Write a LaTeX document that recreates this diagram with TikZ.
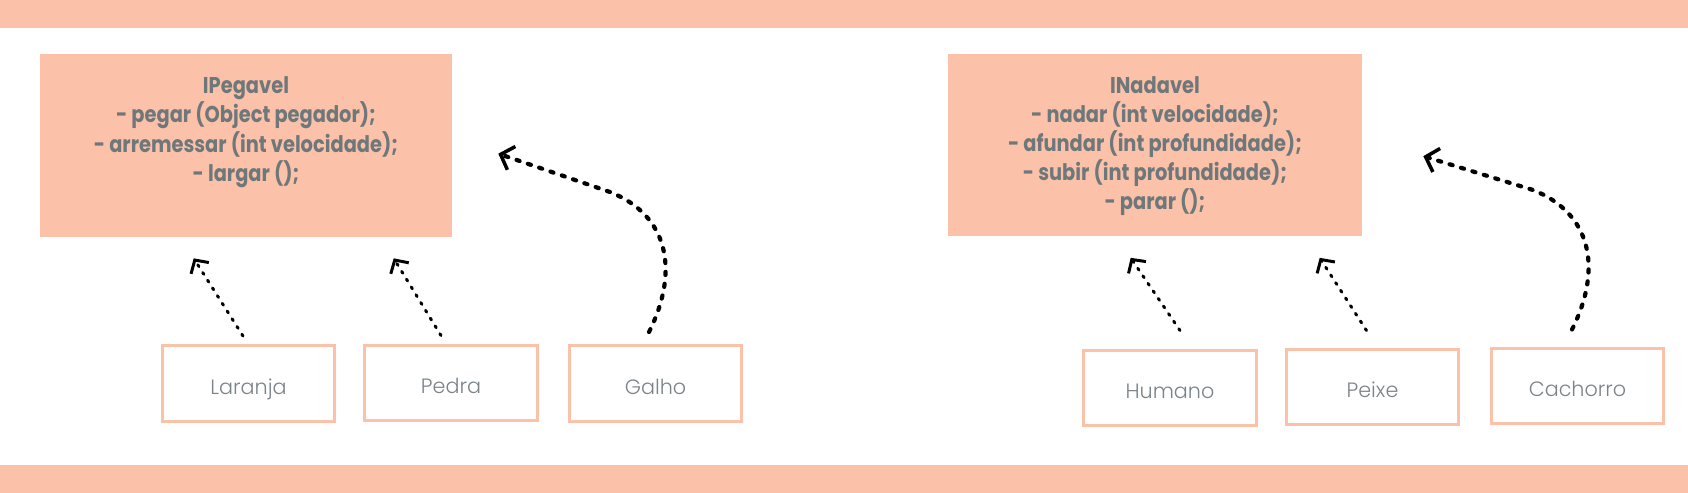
\documentclass[tikz,border=0pt]{standalone}
\usepackage{fontspec}
\setmainfont{Poppins}
\newfontfamily\ifacefont[FakeStretch=0.85]{Poppins}
\newfontfamily\classfont{Poppins Light}
\usetikzlibrary{arrows.meta}
\definecolor{peach}{HTML}{FCC2A9}
\definecolor{inkgray}{HTML}{6E777A}
\definecolor{softgray}{HTML}{7A8388}
\tikzset{
  iface/.style={fill=peach,minimum width=8.24cm,minimum height=3.66cm,inner sep=0pt},
  ifacetext/.style={text=inkgray,font=\ifacefont\bfseries\fontsize{13}{16.6}\selectfont,align=center,anchor=north,inner sep=0pt},
  classbox/.style={draw=peach,line width=1.7pt,minimum width=3.45cm,minimum height=1.52cm,text height=12.5pt,text depth=0pt,text=softgray,font=\classfont\fontsize{11.8}{14}\selectfont},
  implarrow/.style={line width=1.7pt,dash pattern=on 1.2pt off 4pt,line cap=round,-{Straight Barb[length=5.5pt,width=12pt,line width=1.7pt]}},
  bendarrow/.style={line width=2.4pt,dash pattern=on 1.8pt off 5pt,line cap=round,-{Straight Barb[length=6.5pt,width=14pt,line width=2pt]}}
}
\begin{document}
\begin{tikzpicture}[x=0.02cm,y=-0.02cm]
    \useasboundingbox (0,0) rectangle (1688,493);
    \fill[peach] (0,0) rectangle (1688,28) (0,465) rectangle (1688,493);
    % interfaces
    \node[iface] (peg) at (246,145.5) {};
    \node[iface,minimum width=8.28cm] (nad) at (1155,145) {};
    \node[ifacetext] (pegtxt) at ([yshift=-13]peg.north) {IPegavel\\- pegar (Object pegador);\\- arremessar (int velocidade);\\- largar ();};
    \node[ifacetext] (nadtxt) at ([yshift=-13]nad.north) {INadavel\\- nadar (int velocidade);\\- afundar (int profundidade);\\- subir (int profundidade);\\- parar ();};
    % classes
    \foreach \n/\x/\y/\t in {lar/248.5/383.5/Laranja,ped/451/383/Pedra,gal/655.5/383.5/Galho,hum/1170/388/Humano,pei/1372.5/387/Peixe,cac/1577.5/386/Cachorro}
        \node[classbox] (\n) at (\x,\y) {\t};
    \foreach \c/\sx/\sy/\i/\ex/\ey in {lar/-5.5/-8/peg/154/21,ped/-10/-8/peg/354/21,hum/10/-18/nad/183/21,pei/-6/-17/nad/372/21}
        \draw[implarrow] ([shift={(\sx,\sy)}]\c.north) -- ([shift={(\ex,\ey)}]\i.south west);
    \draw[bendarrow] ([shift={(-6.5,-12)}]gal.north) .. controls (680,270) and (668,215) .. (610,192) -- ([shift={(46,100)}]peg.north east);
    \draw[bendarrow] ([shift={(-5.5,-17)}]cac.north) .. controls (1603,268) and (1591,213) .. (1533,190) -- ([shift={(61,103)}]nad.north east);
\end{tikzpicture}
\end{document}
